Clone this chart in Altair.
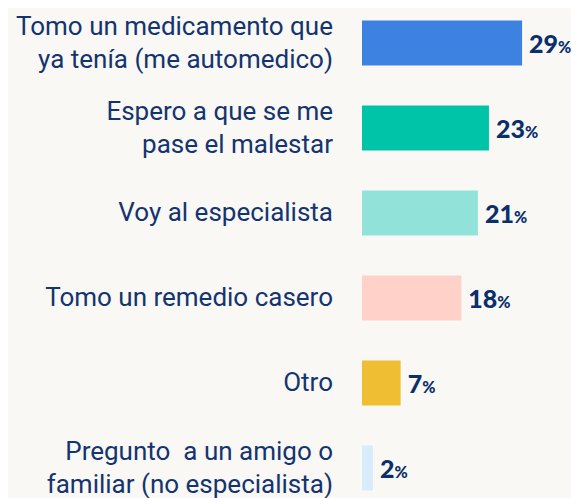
import altair as alt
import pandas as pd

categories = [
    "Tomo un medicamento que\nya tenía (me automedico)",
    "Espero a que se me\npase el malestar",
    "Voy al especialista",
    "Tomo un remedio casero",
    "Otro",
    "Pregunto\u00a0 a un amigo o\nfamiliar (no especialista)",
]
values = [29, 23, 21, 18, 7, 2]
colors = ["#3d82e0", "#00c4a8", "#91e2d9", "#ffd1c8", "#f0be32", "#d9ecfc"]

PX_PER_UNIT = 5.52
PLOT_W = 209

df = pd.DataFrame({
    "cat": categories,
    "value": values,
    "num": [str(v) for v in values],
})

y = alt.Y("cat:N", sort=categories, axis=None,
          scale=alt.Scale(range=[12.5, 482.5], paddingInner=0.47, paddingOuter=0))
xscale = alt.Scale(domain=[0, PLOT_W / PX_PER_UNIT])
x = alt.X("value:Q", axis=None, scale=xscale)

base = alt.Chart(df)

bars = base.mark_bar().encode(
    x=x, y=y,
    color=alt.Color("cat:N", sort=categories, legend=None,
                    scale=alt.Scale(domain=categories, range=colors)),
)

label_style = dict(align="right", baseline="middle", lineBreak="\n", fontSize=26,
                   font="Roboto", color="#143470", lineHeight=33)

labels_one = base.transform_filter(
    "indexof(datum.cat, '\\n') < 0"
).mark_text(**label_style).encode(x=alt.value(-29), y=y, text="cat:N")

labels_two = base.transform_filter(
    "indexof(datum.cat, '\\n') >= 0"
).mark_text(dy=-16, **label_style).encode(x=alt.value(-29), y=y, text="cat:N")

nums = base.mark_text(
    align="left", baseline="alphabetic", dx=7, dy=10, fontSize=25,
    fontWeight=900, font="Lato", color="#0b2f6b",
).encode(x=x, y=y, text="num:N")

pcts = base.transform_calculate(
    pos=f"datum.value + (7 + length(datum.num) * 14.5) / {PX_PER_UNIT}"
).mark_text(
    align="left", baseline="alphabetic", dy=10, fontSize=16,
    fontWeight=900, font="Lato", color="#0b2f6b",
).encode(
    x=alt.X("pos:Q", axis=None, scale=xscale), y=y,
    text=alt.value("%"),
)

chart = alt.layer(bars, labels_one, labels_two, nums, pcts).properties(
    width=PLOT_W, height=490,
    autosize=alt.AutoSizeParams(type="none"),
    padding={"left": 354, "top": 0, "right": 0, "bottom": 0},
    background="#f9f8f5",
).configure_view(stroke=None)

chart.save("out.html", embed_options={"renderer": "svg", "actions": False})
